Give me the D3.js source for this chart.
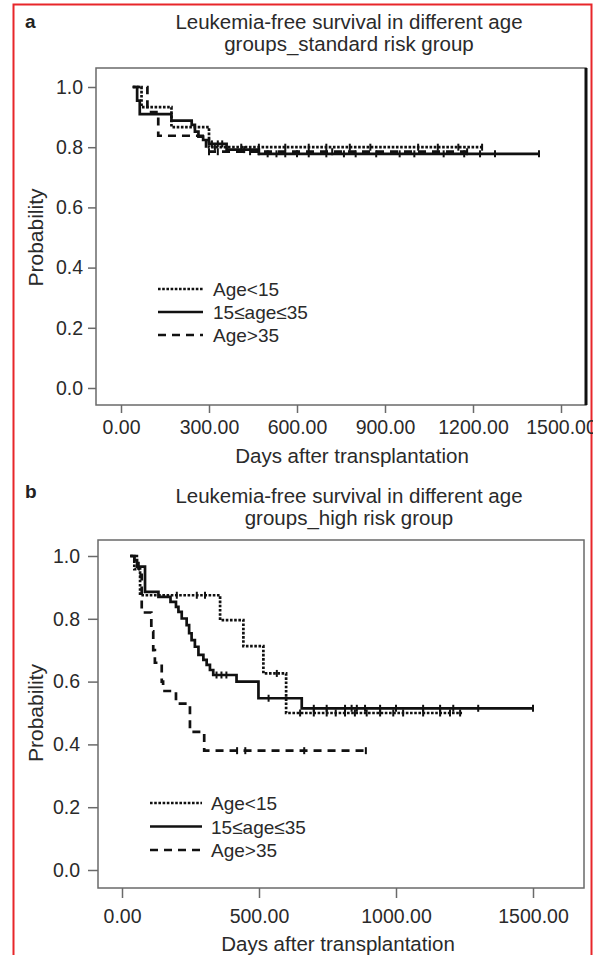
<!DOCTYPE html>
<html>
<head>
<meta charset="utf-8">
<script src="https://cdn.jsdelivr.net/npm/d3@7"></script>
<style>
  html, body { margin: 0; padding: 0; background: #fff; }
  svg { display: block; }
  text { font-family: "Liberation Sans", Arial, sans-serif; fill: #2a2a2a; }
</style>
</head>
<body>
<svg id="chart" width="593" height="955"></svg>
<script>
// ---- shared labels ----
const groupLabels = ["Age<15", "15\u2264age\u226435", "Age>35"];
const yTickValues = [0, 0.2, 0.4, 0.6, 0.8, 1.0];
const yTickLabels = ["0.0", "0.2", "0.4", "0.6", "0.8", "1.0"];

// ---- panel a: standard risk group ----
const aTitle = ["Leukemia-free survival in different age", "groups_standard risk group"];
const aXTicks = [0, 300, 600, 900, 1200, 1500];
const aXTickLabels = ["0.00", "300.00", "600.00", "900.00", "1200.00", "1500.00"];

const aLt15Days = [40, 70, 172, 300];
const aLt15Surv = [1.0, 0.933, 0.867, 0.80];
const aLt15End = 1231;
const aLt15Censor = [320, 410, 470, 560, 640, 700, 780, 850, 1013, 1080, 1150, 1231];

const aMidDays = [40, 55, 64, 172, 241, 252, 264, 280, 300, 360, 470];
const aMidSurv = [1.0, 0.955, 0.91, 0.888, 0.874, 0.852, 0.835, 0.824, 0.811, 0.792, 0.778];
const aMidEnd = 1425;
const aMidCensor = [310, 330, 345, 420, 500, 530, 560, 600, 640, 700, 760, 800, 870, 950, 1000, 1100, 1170, 1224, 1275, 1425];

const aGt35Days = [40, 90, 127, 290];
const aGt35Surv = [1.0, 0.917, 0.838, 0.785];
const aGt35End = 1180;
const aGt35Censor = [300, 330, 440, 470, 720, 1180];

// ---- panel b: high risk group ----
const bTitle = ["Leukemia-free survival in different age", "groups_high risk group"];
const bXTicks = [0, 500, 1000, 1500];
const bXTickLabels = ["0.00", "500.00", "1000.00", "1500.00"];

const bLt15Days = [30, 45, 66, 358, 443, 516, 599];
const bLt15Surv = [1.0, 0.958, 0.875, 0.796, 0.713, 0.626, 0.50];
const bLt15End = 1241;
const bLt15Censor = [200, 273, 303, 565, 650, 700, 747, 780, 814, 850, 893, 942, 990, 1026, 1099, 1161, 1197, 1234];

const bMidDays = [30, 45, 55, 84, 133, 177, 197, 206, 218, 236, 245, 254, 266, 279, 297, 309, 321, 333, 418, 498, 656];
const bMidSurv = [1.0, 0.987, 0.966, 0.886, 0.87, 0.854, 0.838, 0.822, 0.801, 0.780, 0.754, 0.732, 0.711, 0.685, 0.669, 0.653, 0.637, 0.621, 0.600, 0.547, 0.515];
const bMidEnd = 1500;
const bMidCensor = [345, 363, 381, 535, 700, 747, 814, 838, 857, 887, 942, 1000, 1099, 1161, 1209, 1300, 1500];

const bGt35Days = [30, 60, 72, 107, 114, 120, 145, 150, 197, 248, 300];
const bGt35Surv = [1.0, 0.94, 0.82, 0.76, 0.70, 0.66, 0.60, 0.57, 0.53, 0.44, 0.38];
const bGt35End = 890;
const bGt35Censor = [420, 450, 665, 890];

// line styles per group: dotted, solid, dashed
const groupDash = ["2.6,1.6", null, "8,6"];

const svg = d3.select("#chart");

// outer red frame (left, top, right edges)
svg.append("path")
  .attr("d", "M13.5,955 L13.5,4.5 L591.5,4.5 L591.5,955")
  .attr("fill", "none").attr("stroke", "#e8262a").attr("stroke-width", 2);

function stepAt(days, surv, t) {
  let s = surv[0];
  for (let i = 0; i < days.length; i++) if (days[i] <= t) s = surv[i];
  return s;
}

function drawPanel(cfg) {
  const g = svg.append("g");
  const x = d3.scaleLinear().domain(cfg.xDomain).range(cfg.xRange);
  const y = d3.scaleLinear().domain([0, 1]).range(cfg.yRange);

  // panel letter
  g.append("text").attr("x", 25).attr("y", cfg.letterY)
    .style("font-weight", "bold").style("font-size", "19px").style("fill", "#222")
    .text(cfg.letter);

  // title
  cfg.title.forEach((t, i) => {
    g.append("text").attr("x", 349).attr("y", cfg.titleY + i * 21.5)
      .attr("text-anchor", "middle").style("font-size", "20.5px").text(t);
  });

  // frame
  g.append("rect")
    .attr("x", cfg.frame[0]).attr("y", cfg.frame[1])
    .attr("width", cfg.frame[2] - cfg.frame[0]).attr("height", cfg.frame[3] - cfg.frame[1])
    .attr("fill", "none").attr("stroke", "#6a6a6a").attr("stroke-width", 1.5);
  if (cfg.heavyRight) {
    g.append("line").attr("x1", cfg.frame[2]).attr("x2", cfg.frame[2])
      .attr("y1", cfg.frame[1]).attr("y2", cfg.frame[3])
      .attr("stroke", "#111").attr("stroke-width", 3);
  }

  // y axis
  const yAxis = d3.axisLeft(y).tickValues(yTickValues)
    .tickFormat((d, i) => yTickLabels[i]).tickSize(cfg.tick).tickPadding(cfg.yPad);
  const ya = g.append("g").attr("transform", `translate(${cfg.frame[0]},0)`).call(yAxis);
  ya.select(".domain").remove();
  ya.selectAll(".tick line").attr("stroke", "#6a6a6a").attr("stroke-width", 1.5);
  ya.selectAll(".tick text").style("font-size", "19.5px").style("fill", "#2a2a2a")
    .attr("font-family", null);

  // x axis
  const xAxis = d3.axisBottom(x).tickValues(cfg.xTicks)
    .tickFormat((d, i) => cfg.xTickLabels[i]).tickSize(cfg.tick).tickPadding(cfg.xPad);
  const xa = g.append("g").attr("transform", `translate(0,${cfg.frame[3]})`).call(xAxis);
  xa.select(".domain").remove();
  xa.selectAll(".tick line").attr("stroke", "#6a6a6a").attr("stroke-width", 1.5);
  xa.selectAll(".tick text").style("font-size", "19.5px").style("fill", "#2a2a2a")
    .attr("font-family", null);

  // axis titles
  g.append("text").attr("x", cfg.xTitleX).attr("y", cfg.xTitleY)
    .attr("text-anchor", "middle").style("font-size", "20.5px").text("Days after transplantation");
  const yMid = (y(0) + y(1)) / 2;
  g.append("text").attr("transform", `translate(${cfg.yTitleX},${yMid}) rotate(-90)`)
    .attr("text-anchor", "middle").style("font-size", "21px").text("Probability");

  // survival curves
  const line = d3.line().x(d => x(d[0])).y(d => y(d[1])).curve(d3.curveStepAfter);
  cfg.series.forEach((s, k) => {
    const pts = s.days.map((d, i) => [d, s.surv[i]]);
    pts.push([s.end, s.surv[s.surv.length - 1]]);
    g.append("path").datum(pts).attr("d", line)
      .attr("fill", "none").attr("stroke", "#111").attr("stroke-width", 2.7)
      .attr("stroke-dasharray", groupDash[k]);
    g.selectAll(null).data(s.censor).enter().append("line")
      .attr("x1", d => x(d)).attr("x2", d => x(d))
      .attr("y1", d => y(stepAt(s.days, s.surv, d)) - 3.5)
      .attr("y2", d => y(stepAt(s.days, s.surv, d)) + 3.5)
      .attr("stroke", "#111").attr("stroke-width", 2);
  });

  // legend
  groupLabels.forEach((lab, k) => {
    const ly = cfg.legend.y + k * cfg.legend.dy;
    g.append("line").attr("x1", cfg.legend.x1).attr("x2", cfg.legend.x2)
      .attr("y1", ly).attr("y2", ly)
      .attr("stroke", "#111").attr("stroke-width", 2.7)
      .attr("stroke-dasharray", groupDash[k]);
    g.append("text").attr("x", cfg.legend.tx).attr("y", ly + 7)
      .style("font-size", "19px").text(lab);
  });
}

drawPanel({
  letter: "a", letterY: 28, title: aTitle, titleY: 29,
  frame: [96, 68, 586, 405], heavyRight: true, tick: 8, yPad: 5, xPad: 7,
  xDomain: [0, 1500], xRange: [121, 561], yRange: [388, 87],
  xTicks: aXTicks, xTickLabels: aXTickLabels, xTitleX: 352, xTitleY: 463, yTitleX: 43,
  series: [
    { days: aLt15Days, surv: aLt15Surv, end: aLt15End, censor: aLt15Censor },
    { days: aMidDays, surv: aMidSurv, end: aMidEnd, censor: aMidCensor },
    { days: aGt35Days, surv: aGt35Surv, end: aGt35End, censor: aGt35Censor }
  ],
  legend: { x1: 158, x2: 203, tx: 213, y: 289, dy: 23 }
});

drawPanel({
  letter: "b", letterY: 498, title: bTitle, titleY: 503,
  frame: [98, 540, 584, 888], heavyRight: false, tick: 10, yPad: 8, xPad: 11,
  xDomain: [0, 1500], xRange: [122, 533], yRange: [870, 556],
  xTicks: bXTicks, xTickLabels: bXTickLabels, xTitleX: 338, xTitleY: 951, yTitleX: 43,
  series: [
    { days: bLt15Days, surv: bLt15Surv, end: bLt15End, censor: bLt15Censor },
    { days: bMidDays, surv: bMidSurv, end: bMidEnd, censor: bMidCensor },
    { days: bGt35Days, surv: bGt35Surv, end: bGt35End, censor: bGt35Censor }
  ],
  legend: { x1: 150, x2: 202, tx: 211, y: 803, dy: 23.5 }
});
</script>
</body>
</html>
